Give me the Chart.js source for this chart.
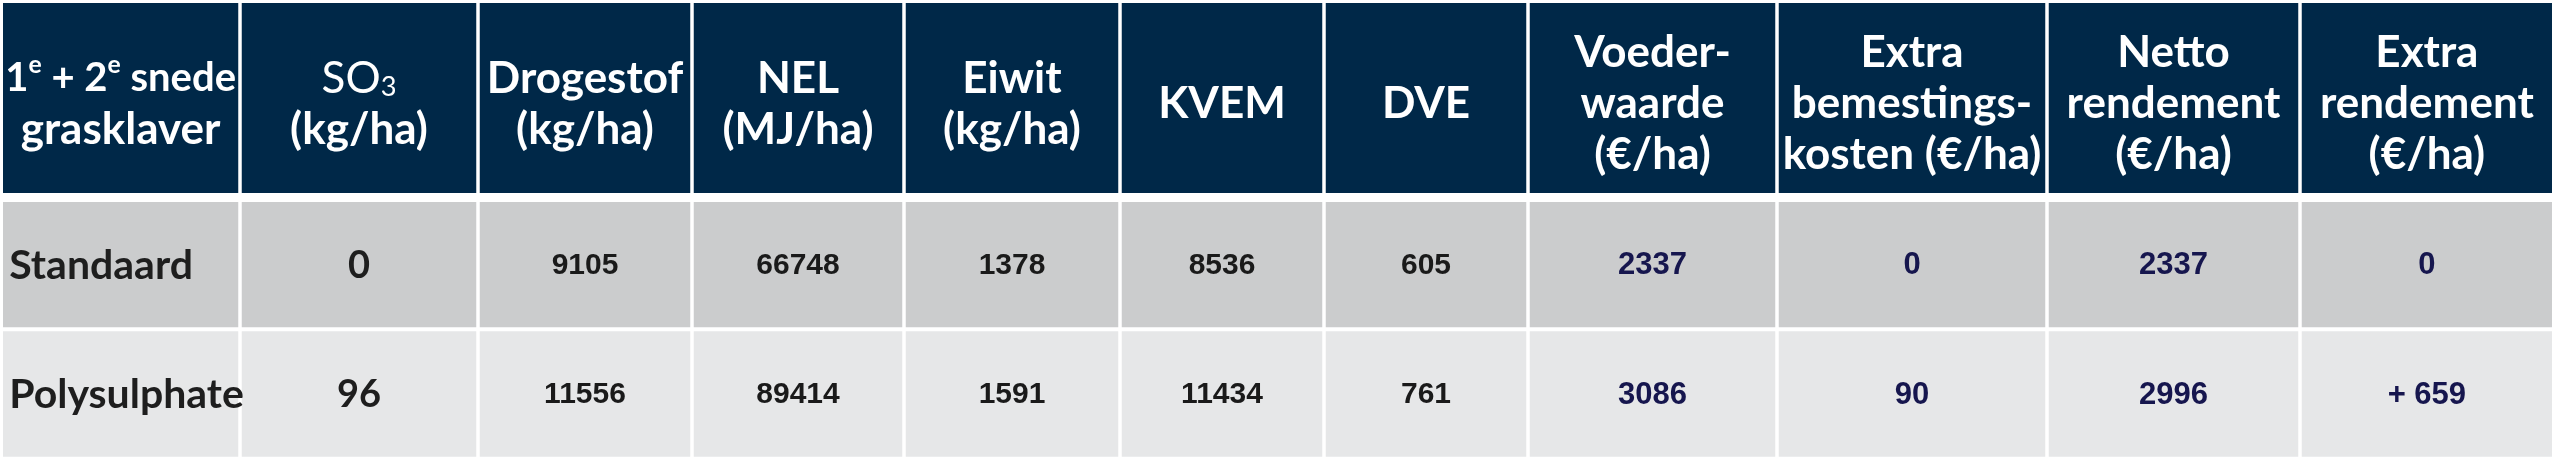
<!DOCTYPE html>
<html>
<head>
<meta charset="utf-8">
<script src="https://cdn.jsdelivr.net/npm/chart.js@4.4.1/dist/chart.umd.min.js"></script>
<style>
  html, body { margin: 0; padding: 0; background: #ffffff; }
  .layer { position: absolute; left: 0; top: 0; width: 2560px; height: 463px; }
</style>
</head>
<body>
<div class="layer"><canvas id="header-table"></canvas></div>
<div class="layer"><canvas id="body-table"></canvas></div>
<script>
// ^x = superscript, _x = subscript
const headerLabels = [
  ["1^e + 2^e snede", "grasklaver"],
  ["SO_3", "(kg/ha)"],
  ["Drogestof", "(kg/ha)"],
  ["NEL", "(MJ/ha)"],
  ["Eiwit", "(kg/ha)"],
  ["KVEM"],
  ["DVE"],
  ["Voeder-", "waarde", "(€/ha)"],
  ["Extra", "bemestings-", "kosten (€/ha)"],
  ["Netto", "rendement", "(€/ha)"],
  ["Extra", "rendement", "(€/ha)"],
];
const rowLabels = ["Standaard", "Polysulphate"];
const so3 = [0, 96];
const drogestof = [9105, 11556];
const nel = [66748, 89414];
const eiwit = [1378, 1591];
const kvem = [8536, 11434];
const dve = [605, 761];
const voederwaarde = [2337, 3086];
const extraKosten = [0, 90];
const nettoRendement = [2337, 2996];
const extraRendement = [0, 659];

const bodyColumns = [rowLabels, so3, drogestof, nel, eiwit, kvem, dve,
  voederwaarde, extraKosten, nettoRendement, extraRendement];

// layout: column widths in px
const colWidths = [238.75, 238, 214, 212, 216, 204, 204, 249, 270, 253, 253.75];
const totalWidth = colWidths.reduce((a, b) => a + b, 0);

const HEADER_BG = "#002848";
const ROW_BG = ["#cbcccd", "#e6e7e8"];

function drawRich(ctx, text, cx, y, size, weight, family, maxWidth) {
  const parts = [];
  let i = 0, buf = "";
  while (i < text.length) {
    const c = text[i];
    if ((c === "^" || c === "_") && i + 1 < text.length) {
      if (buf) parts.push({ t: buf, mode: "n" });
      buf = "";
      parts.push({ t: text[i + 1], mode: c === "^" ? "sup" : "sub" });
      i += 2;
    } else {
      buf += c;
      i++;
    }
  }
  if (buf) parts.push({ t: buf, mode: "n" });

  const measure = (s) => {
    let total = 0;
    parts.forEach((p) => {
      ctx.font = weight + " " + (p.mode === "n" ? s : s * 0.62) + "px " + family;
      p.w = ctx.measureText(p.t).width;
      total += p.w;
    });
    return total;
  };
  let total = measure(size);
  if (total > maxWidth) {
    size = size * maxWidth / total;
    total = measure(size);
  }
  let x = cx - total / 2;
  ctx.textAlign = "left";
  parts.forEach((p) => {
    ctx.font = weight + " " + (p.mode === "n" ? size : size * 0.62) + "px " + family;
    let dy = 0;
    if (p.mode === "sup") dy = -size * 0.34;
    if (p.mode === "sub") dy = size * 0.2;
    ctx.fillText(p.t, x, y + dy);
    x += p.w;
  });
}

function eachCell(chart, fn) {
  chart.data.datasets.forEach((ds, col) => {
    chart.getDatasetMeta(col).data.forEach((bar, row) => {
      const { x, y, base } = bar.getProps(["x", "y", "base"], true);
      fn(col, row, Math.min(x, base), Math.max(x, base), y);
    });
  });
}

const headerText = {
  id: "headerText",
  afterDatasetsDraw(chart) {
    const ctx = chart.ctx;
    ctx.save();
    ctx.fillStyle = "#ffffff";
    ctx.textBaseline = "middle";
    eachCell(chart, (col, row, left, right, cy) => {
      const lines = headerLabels[col];
      const lh = 51;
      const top = cy + 6 - (lines.length - 1) * lh / 2;
      lines.forEach((line, k) => {
        const weight = (col === 1 && k === 0) ? "normal" : "bold";
        drawRich(ctx, line, (left + right) / 2, top + k * lh, 44, weight,
          "Lato, 'Open Sans', sans-serif", right - left - 8);
      });
    });
    ctx.restore();
  }
};

function formatCell(col, v) {
  if (col === 10 && v > 0) return "+ " + v;
  return String(v);
}

const bodyText = {
  id: "bodyText",
  afterDatasetsDraw(chart) {
    const ctx = chart.ctx;
    ctx.save();
    ctx.textBaseline = "middle";
    eachCell(chart, (col, row, left, right, cy) => {
      const v = bodyColumns[col][row];
      if (col === 0) {
        ctx.font = "bold 41px Lato, 'Open Sans', sans-serif";
        ctx.fillStyle = "#1e1e1e";
        ctx.textAlign = "left";
        ctx.fillText(v, left + 8, cy + 1);
      } else if (col === 1) {
        ctx.font = "bold 38px Lato, 'Open Sans', sans-serif";
        ctx.fillStyle = "#1e1e1e";
        ctx.textAlign = "center";
        ctx.fillText(formatCell(col, v), (left + right) / 2, cy + 1);
      } else {
        ctx.font = col < 7 ? "bold 30px 'Liberation Sans', Arial, sans-serif" : "bold 31px 'Liberation Sans', Arial, sans-serif";
        ctx.fillStyle = col < 7 ? "#1a1a1a" : "#16164e";
        ctx.textAlign = "center";
        ctx.fillText(formatCell(col, v), (left + right) / 2, cy + 1);
      }
    });
    ctx.restore();
  }
};

const baseOptions = (padding) => ({
  indexAxis: "y",
  responsive: true,
  maintainAspectRatio: false,
  animation: false,
  layout: { padding },
  scales: {
    x: { stacked: true, display: false, min: 0, max: totalWidth },
    y: { stacked: true, display: false }
  },
  plugins: { legend: { display: false }, tooltip: { enabled: false } }
});

new Chart(document.getElementById("header-table"), {
  type: "bar",
  data: {
    labels: ["kop"],
    datasets: colWidths.map((w, i) => ({
      label: "kolom " + i,
      data: [w],
      backgroundColor: HEADER_BG,
      borderColor: "#ffffff",
      borderWidth: { left: 1.75, right: 1.75, top: 0, bottom: 0 },
      borderSkipped: false,
      inflateAmount: 0,
      barPercentage: 1,
      categoryPercentage: 1
    }))
  },
  options: baseOptions({ left: 1.25, right: 6.25, top: 3, bottom: 270 }),
  plugins: [headerText]
});

new Chart(document.getElementById("body-table"), {
  type: "bar",
  data: {
    labels: rowLabels,
    datasets: colWidths.map((w, i) => ({
      label: "kolom " + i,
      data: rowLabels.map(() => w),
      backgroundColor: ROW_BG,
      borderColor: "#ffffff",
      borderWidth: { left: 1.75, right: 1.75, top: 2, bottom: 2 },
      borderSkipped: false,
      inflateAmount: 0,
      barPercentage: 1,
      categoryPercentage: 1
    }))
  },
  options: baseOptions({ left: 1.25, right: 6.25, top: 200, bottom: 4.3 }),
  plugins: [bodyText]
});
</script>
</body>
</html>
